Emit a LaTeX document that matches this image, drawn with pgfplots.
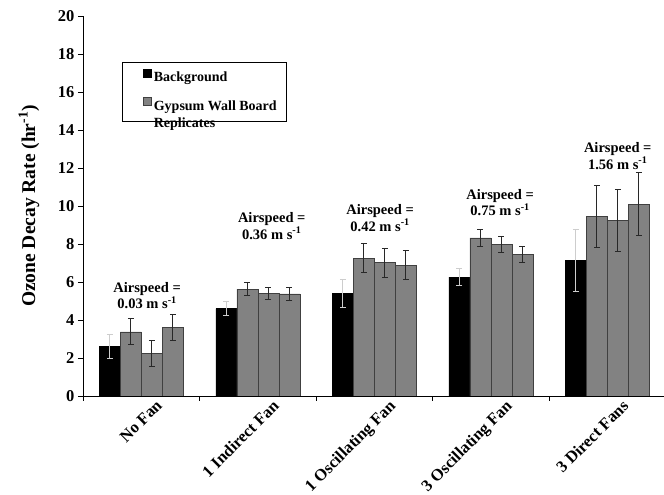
\documentclass[border=0pt]{standalone}
\usepackage{fontspec}
\setmainfont{Liberation Serif}
\usepackage{pgfplots}
\pgfplotsset{compat=1.18}
\definecolor{barGray}{RGB}{130,130,130}
\definecolor{errLight}{RGB}{205,205,205}
\definecolor{errDark}{RGB}{40,40,40}
\newcommand{\tf}{\bfseries\fontsize{16.5}{18}\selectfont}
\newcommand{\xf}{\bfseries\fontsize{16.5}{18.5}\selectfont}
\newcommand{\af}{\bfseries\fontsize{14.5}{16.5}\selectfont}
\newcommand{\lf}{\bfseries\fontsize{14}{17.5}\selectfont}
\begin{document}
\begin{tikzpicture}
\useasboundingbox (0,0) rectangle (664pt,495pt);
\begin{axis}[
  at={(83pt,99pt)}, anchor=south west,
  scale only axis, width=581pt, height=380pt,
  xmin=-0.5, xmax=4.487, ymin=0, ymax=20,
  ybar=0pt, bar width=21pt,
  axis x line*=bottom, axis y line*=left,
  axis line style={black, line width=0.8pt},
  tick align=outside, major tick length=5pt,
  tick style={black, line width=0.8pt},
  ytick={0,2,...,20},
  /pgf/number format/assume math mode=true,
  yticklabel style={font=\tf},
  xtick={-0.5,0.5,1.5,2.5,3.5}, xticklabels={},
  extra x ticks={0,1,2,3,4},
  extra x tick labels={No Fan,1 Indirect Fan,1 Oscillating Fan,3 Oscillating Fan,3 Direct Fans},
  extra x tick style={major tick length=0pt, tick style={draw=none}},
  xticklabel style={xshift=14pt, yshift=2pt, rotate=45, anchor=north east, font=\xf},
  every axis y label/.style={at={(rel axis cs:0,0.5)}, xshift=-54pt, rotate=90, anchor=center, font=\bfseries\fontsize{19.5}{21}\selectfont},
  ylabel={Ozone Decay Rate (hr\textsuperscript{-1})},
  legend style={at={(rel axis cs:0.067,0.879)}, anchor=north west, draw=black, line width=0.6pt, fill=white,
    font=\lf, row sep=11pt, inner xsep=8pt, inner ysep=7pt},
  legend cell align=left,
  legend image code/.code={\path (0pt,0pt); \draw[#1,/tikz/.cd,line width=0.6pt] (13pt,0pt) rectangle (21pt,8pt);},
]
\addplot[fill=black, draw=black,
  error bars/.cd, y dir=both, y explicit,
  error bar style={errLight, line width=1pt},
  error mark options={errLight, rotate=90, mark size=3pt, line width=1pt}]
  coordinates {(0,2.6) +- (0,0.65) (1,4.6) +- (0,0.37) (2,5.4) +- (0,0.75) (3,6.25) +- (0,0.45) (4,7.15) +- (0,1.63)};
\addplot[fill=barGray, draw=black!75,
  error bars/.cd, y dir=both, y explicit,
  error bar style={errDark, line width=0.9pt},
  error mark options={errDark, rotate=90, mark size=3pt, line width=0.9pt}]
  coordinates {(0,3.38) +- (0,0.69) (1,5.63) +- (0,0.33) (2,7.26) +- (0,0.78) (3,8.32) +- (0,0.43) (4,9.44) +- (0,1.62)};
\addplot[fill=barGray, draw=black!75,
  error bars/.cd, y dir=both, y explicit,
  error bar style={errDark, line width=0.9pt},
  error mark options={errDark, rotate=90, mark size=3pt, line width=0.9pt}]
  coordinates {(0,2.25) +- (0,0.67) (1,5.4) +- (0,0.3) (2,7.02) +- (0,0.76) (3,7.98) +- (0,0.44) (4,9.23) +- (0,1.63)};
\addplot[fill=barGray, draw=black!75,
  error bars/.cd, y dir=both, y explicit,
  error bar style={errDark, line width=0.9pt},
  error mark options={errDark, rotate=90, mark size=3pt, line width=0.9pt}]
  coordinates {(0,3.61) +- (0,0.68) (1,5.37) +- (0,0.35) (2,6.89) +- (0,0.76) (3,7.44) +- (0,0.43) (4,10.09) +- (0,1.66)};
\legend{Background,{\begin{tabular}[t]{@{}l@{}}Gypsum Wall Board\\Replicates\end{tabular}}}

\node[font=\af, align=center] at (axis cs:0.05,5.29) {Airspeed =\\0.03 m s\textsuperscript{-1}};
\node[font=\af, align=center] at (axis cs:1.12,8.95) {Airspeed =\\0.36 m s\textsuperscript{-1}};
\node[font=\af, align=center] at (axis cs:2.05,9.37) {Airspeed =\\0.42 m s\textsuperscript{-1}};
\node[font=\af, align=center] at (axis cs:3.08,10.18) {Airspeed =\\0.75 m s\textsuperscript{-1}};
\node[font=\af, align=center] at (axis cs:4.09,12.63) {Airspeed =\\1.56 m s\textsuperscript{-1}};
\end{axis}
\end{tikzpicture}
\end{document}
